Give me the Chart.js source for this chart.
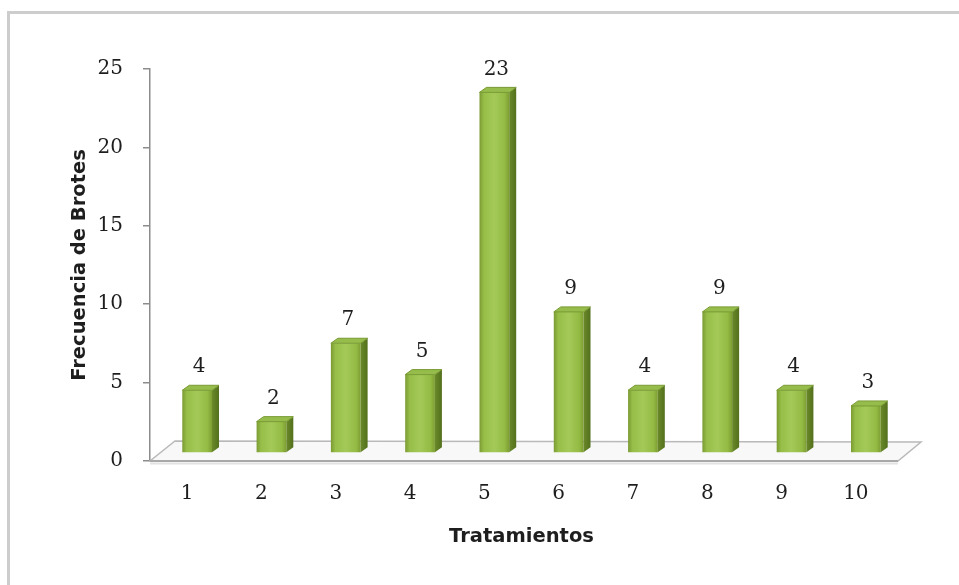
<!DOCTYPE html>
<html>
<head>
<meta charset="utf-8">
<script src="https://cdn.jsdelivr.net/npm/chart.js@4.4.0/dist/chart.umd.min.js"></script>
<style>
  html, body { margin: 0; padding: 0; background: #fff; }
  #wrap { position: relative; width: 959px; height: 585px; overflow: hidden; }
  #frame { position: absolute; left: 7px; top: 11px; width: 1000px; height: 620px;
           border-top: 3px solid #cdcdcd; border-left: 3px solid #cdcdcd; }
  canvas { position: absolute; left: 0; top: 0; }
</style>
</head>
<body>
<div id="wrap">
  <div id="frame"></div>
  <canvas id="chart" width="959" height="585"></canvas>
</div>
<script>
const categories = ['1', '2', '3', '4', '5', '6', '7', '8', '9', '10'];
const frecuencia = [4, 2, 7, 5, 23, 9, 4, 9, 4, 3];
const yMin = 0, yMax = 25, yStep = 5;
const xTitle = 'Tratamientos';
const yTitle = 'Frecuencia de Brotes';

// 3d look: bars sit back on the floor, and have a side + top face
const DX = 10, DY = -8;
const SIDE = 7, TOPD = 5;

const tickFont = { family: 'DejaVu Serif', size: 20 };
const titleFont = { family: 'DejaVu Sans', size: 19.5, weight: 'bold', lineHeight: 1.2 };
const textColor = '#1e1e1e';
const axisColor = '#8c8c8c';

function frontFill(c) {
  const chart = c.chart;
  if (!chart.chartArea) return '#9bc53d';
  const xs = chart.scales.x;
  const cx = xs.getPixelForValue(c.dataIndex);
  const w = xs.width / categories.length * 0.4;
  const g = chart.ctx.createLinearGradient(cx - w / 2, 0, cx + w / 2, 0);
  g.addColorStop(0, '#7a9a33');
  g.addColorStop(0.15, '#97be48');
  g.addColorStop(0.5, '#a4c958');
  g.addColorStop(0.85, '#94bb44');
  g.addColorStop(1, '#7d9d32');
  return g;
}

const floor3d = {
  id: 'floor3d',
  beforeDatasetsDraw(chart) {
    const { ctx, chartArea: a } = chart;
    ctx.save();
    // floor
    ctx.beginPath();
    ctx.moveTo(a.left, a.bottom);
    ctx.lineTo(a.right + 5, a.bottom);
    ctx.lineTo(a.right + 28, a.bottom - 19);
    ctx.lineTo(a.left + 25, a.bottom - 20);
    ctx.closePath();
    ctx.fillStyle = '#f8f8f8';
    ctx.fill();
    ctx.strokeStyle = '#b9b9b9';
    ctx.lineWidth = 1.5;
    ctx.stroke();
    // thick front edge + soft shadow
    ctx.beginPath();
    ctx.moveTo(a.left, a.bottom + 2.5);
    ctx.lineTo(a.right + 5, a.bottom + 2.5);
    ctx.strokeStyle = '#e2e2e2';
    ctx.lineWidth = 2;
    ctx.stroke();
    ctx.beginPath();
    ctx.moveTo(a.left, a.bottom);
    ctx.lineTo(a.right + 5, a.bottom);
    ctx.strokeStyle = '#a8a8a8';
    ctx.lineWidth = 2;
    ctx.stroke();
    ctx.restore();

    ctx.save();
    ctx.translate(DX, DY);
  },
  afterDatasetsDraw(chart) {
    const ctx = chart.ctx;
    const meta = chart.getDatasetMeta(0);
    meta.data.forEach((bar, i) => {
      const { x, y, base, width } = bar.getProps(['x', 'y', 'base', 'width'], true);
      const l = x - width / 2, r = x + width / 2;

      // side face
      const sg = ctx.createLinearGradient(r, 0, r + SIDE, 0);
      sg.addColorStop(0, '#6a8a2a');
      sg.addColorStop(1, '#53701c');
      ctx.beginPath();
      ctx.moveTo(r, y);
      ctx.lineTo(r + SIDE, y - TOPD);
      ctx.lineTo(r + SIDE, base - TOPD);
      ctx.lineTo(r, base);
      ctx.closePath();
      ctx.fillStyle = sg;
      ctx.fill();

      // top face
      ctx.beginPath();
      ctx.moveTo(l, y);
      ctx.lineTo(l + SIDE, y - TOPD);
      ctx.lineTo(r + SIDE, y - TOPD);
      ctx.lineTo(r, y);
      ctx.closePath();
      ctx.fillStyle = '#96bd4b';
      ctx.fill();
      ctx.strokeStyle = '#789a33';
      ctx.lineWidth = 1;
      ctx.stroke();

      // value label
      ctx.fillStyle = textColor;
      ctx.font = tickFont.size + 'px "' + tickFont.family + '"';
      ctx.textAlign = 'center';
      ctx.textBaseline = 'middle';
      ctx.fillText(String(frecuencia[i]), x + 2, y - 23);
    });
    ctx.restore();
  }
};

new Chart(document.getElementById('chart'), {
  type: 'bar',
  data: {
    labels: categories,
    datasets: [{
      label: yTitle,
      data: frecuencia,
      backgroundColor: frontFill,
      borderWidth: 0,
      barPercentage: 0.4,
      categoryPercentage: 1.0
    }]
  },
  options: {
    responsive: false,
    animation: false,
    layout: { padding: { top: 69, right: 66, left: 0, bottom: 0 } },
    plugins: {
      legend: { display: false },
      tooltip: { enabled: false }
    },
    scales: {
      x: {
        afterFit(scale) { scale.height = 124; },
        grid: { display: false, drawTicks: false },
        border: { display: false },
        ticks: { font: tickFont, color: textColor, padding: 21, maxRotation: 0 },
        title: { display: true, text: xTitle, font: titleFont, color: textColor,
                 padding: { top: 0, bottom: 36 } }
      },
      y: {
        min: yMin,
        max: yMax,
        afterFit(scale) { scale.width = 150; },
        grid: { drawOnChartArea: false, drawTicks: true, tickLength: 7, color: axisColor, lineWidth: 1.5 },
        border: { display: true, color: axisColor, width: 1.5 },
        ticks: { stepSize: yStep, font: tickFont, color: textColor, padding: 20 },
        title: { display: true, text: yTitle, font: titleFont, color: textColor,
                 padding: { top: 68, bottom: 0 } }
      }
    }
  },
  plugins: [floor3d]
});
</script>
</body>
</html>
